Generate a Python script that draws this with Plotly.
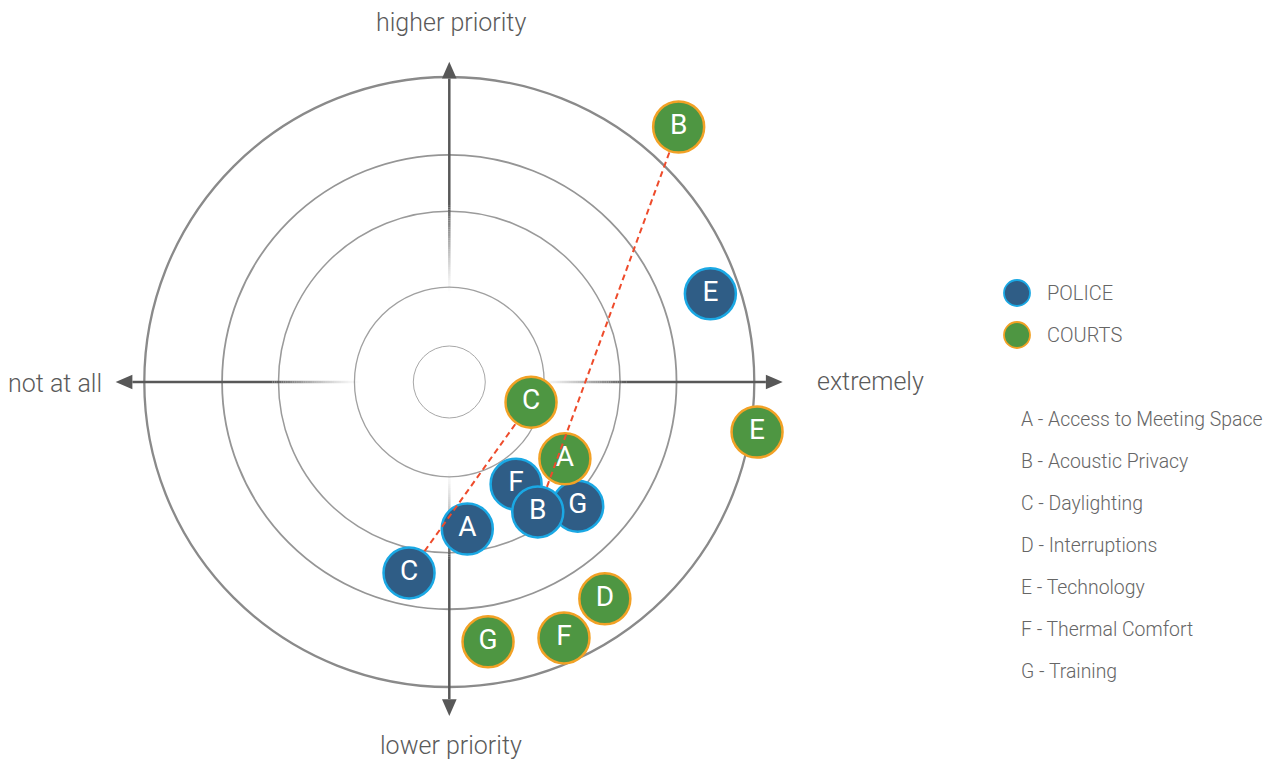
import numpy as np
import plotly.graph_objects as go

# ---------------- data ----------------
police_labels = ["E", "C", "A", "F", "G", "B"]
police_x = [0.856, -0.132, 0.059, 0.219, 0.421, 0.290]
police_y = [0.289, -0.626, -0.482, -0.335, -0.407, -0.426]

courts_labels = ["B", "E", "C", "A", "D", "F", "G"]
courts_x = [0.752, 1.009, 0.268, 0.379, 0.510, 0.376, 0.127]
courts_y = [0.836, -0.164, -0.066, -0.252, -0.711, -0.839, -0.852]

connected = ["B", "C"]

ring_radii = [0.118, 0.311, 0.560, 0.745, 1.0]

axis_labels = ["higher priority", "lower priority", "not at all", "extremely"]
series_names = ["POLICE", "COURTS"]
key_items = ["A - Access to Meeting Space", "B - Acoustic Privacy", "C - Daylighting",
             "D - Interruptions", "E - Technology", "F - Thermal Comfort", "G - Training"]

# ---------------- layout constants ----------------
OFF = 8            # page body margin
W, H = 1276 - OFF, 760 - OFF
SCALE = 305.0      # pixels per unit
CX, CY = 449.3 - OFF, 382.0 - OFF
FONT = "Roboto Light, Roboto, sans-serif"
TXT = "#666666"
AXC = (88, 88, 88)

POL_FILL, POL_EDGE = "#2f5d86", "#1aa8e4"
CRT_FILL, CRT_EDGE = "#4e9642", "#f2a125"
BUB = 51
BUB_LW = 2.5


def X(px):
    return (px - OFF - CX) / SCALE


def Y(py):
    return (CY - (py - OFF)) / SCALE


fig = go.Figure()
shapes = []

# rings
ring_styles = [("#a8a8a8", 1.0), ("#a0a0a0", 1.3), ("#9a9a9a", 1.5), ("#959595", 1.8), ("#8a8a8a", 2.3)]
for r, (c, lw) in zip(ring_radii, ring_styles):
    shapes.append(dict(type="circle", xref="x", yref="y", x0=-r, x1=r, y0=-r, y1=r,
                       line=dict(color=c, width=lw), layer="below"))

# axis arms with faded inner part
fade_start, fade_end = 0.29, 0.58
arms = [((1, 0), 1.093), ((-1, 0), 1.094), ((0, 1), 1.05), ((0, -1), 1.095)]
head_len, head_half = 0.055, 0.024
for (dx, dy), tip in arms:
    base = tip - head_len
    n = 40
    for i in range(n):
        a0 = fade_start + (fade_end - fade_start) * i / n
        a1 = fade_start + (fade_end - fade_start) * (i + 1) / n
        alpha = (i + 0.5) / n
        shapes.append(dict(type="line", xref="x", yref="y",
                           x0=dx * a0, y0=dy * a0, x1=dx * a1, y1=dy * a1,
                           line=dict(color=f"rgba({AXC[0]},{AXC[1]},{AXC[2]},{alpha**1.3:.3f})", width=2.5),
                           layer="below"))
    shapes.append(dict(type="line", xref="x", yref="y",
                       x0=dx * fade_end, y0=dy * fade_end, x1=dx * base, y1=dy * base,
                       line=dict(color=f"rgb{AXC}", width=2.5), layer="below"))
    # arrow head
    px_, py_ = -dy, dx
    p1 = (dx * tip, dy * tip)
    p2 = (dx * base + px_ * head_half, dy * base + py_ * head_half)
    p3 = (dx * base - px_ * head_half, dy * base - py_ * head_half)
    shapes.append(dict(type="path", xref="x", yref="y",
                       path=f"M {p1[0]},{p1[1]} L {p2[0]},{p2[1]} L {p3[0]},{p3[1]} Z",
                       fillcolor=f"rgb{AXC}", line=dict(width=0), layer="below"))

# police bubbles
fig.add_trace(go.Scatter(
    x=police_x, y=police_y, mode="markers+text", text=police_labels,
    textposition="middle center", name=series_names[0],
    textfont=dict(family="Roboto, sans-serif", size=28, color="white"),
    marker=dict(size=BUB, color=POL_FILL, line=dict(color=POL_EDGE, width=BUB_LW)),
    hoverinfo="skip", showlegend=False))

# courts bubbles
fig.add_trace(go.Scatter(
    x=courts_x, y=courts_y, mode="markers+text", text=courts_labels,
    textposition="middle center", name=series_names[1],
    textfont=dict(family="Roboto, sans-serif", size=28, color="white"),
    marker=dict(size=BUB, color=CRT_FILL, line=dict(color=CRT_EDGE, width=BUB_LW)),
    hoverinfo="skip", showlegend=False))

# dashed connectors (edge to edge)
r_unit = (BUB / 2 + BUB_LW / 2) / SCALE
for lab in connected:
    i = police_labels.index(lab)
    j = courts_labels.index(lab)
    p = np.array([police_x[i], police_y[i]])
    q = np.array([courts_x[j], courts_y[j]])
    d = (q - p) / np.linalg.norm(q - p)
    a = p + d * r_unit
    b = q - d * r_unit
    fig.add_trace(go.Scatter(x=[a[0], b[0]], y=[a[1], b[1]], mode="lines",
                             line=dict(color="#ee4b2b", width=2, dash="6px,4px"),
                             hoverinfo="skip", showlegend=False))

annotations = []
# axis labels
annotations.append(dict(x=X(451), y=Y(22), text=axis_labels[0], xanchor="center", yanchor="middle"))
annotations.append(dict(x=X(451), y=Y(745), text=axis_labels[1], xanchor="center", yanchor="middle"))
annotations.append(dict(x=X(104), y=Y(383), text=axis_labels[2], xanchor="right", yanchor="middle"))
annotations.append(dict(x=X(815), y=Y(381), text=axis_labels[3], xanchor="left", yanchor="middle"))
for a in annotations:
    a.update(xref="x", yref="y", showarrow=False, font=dict(family=FONT, size=25, color="#5a5a5a", weight=300))

# legend
leg_y = [293, 335]
for name, ly, fill, edge in zip(series_names, leg_y, [POL_FILL, CRT_FILL], [POL_EDGE, CRT_EDGE]):
    rr = 13 / SCALE
    shapes.append(dict(type="circle", xref="x", yref="y", x0=X(1017) - rr, x1=X(1017) + rr,
                       y0=Y(ly) - rr, y1=Y(ly) + rr, fillcolor=fill, line=dict(color=edge, width=1.8)))
    annotations.append(dict(x=X(1045), y=Y(ly), text=name, xref="x", yref="y", showarrow=False,
                            xanchor="left", yanchor="middle",
                            font=dict(family=FONT, size=20, color=TXT, weight=300)))

for k, item in enumerate(key_items):
    annotations.append(dict(x=X(1019), y=Y(419 + 42 * k), text=item, xref="x", yref="y", showarrow=False,
                            xanchor="left", yanchor="middle",
                            font=dict(family=FONT, size=19.4, color=TXT, weight=300)))

fig.update_layout(
    width=W, height=H, margin=dict(l=0, r=0, t=0, b=0),
    paper_bgcolor="white", plot_bgcolor="white",
    xaxis=dict(range=[X(OFF), X(OFF + W)], visible=False, fixedrange=True),
    yaxis=dict(range=[Y(OFF + H), Y(OFF)], visible=False, fixedrange=True),
    shapes=shapes, annotations=annotations, showlegend=False,
)

fig.write_html("out.html")
